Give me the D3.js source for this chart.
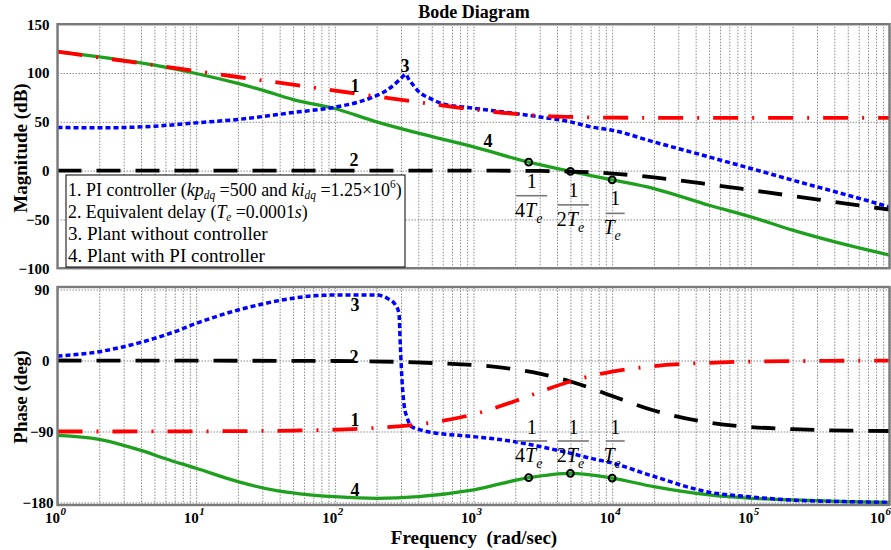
<!DOCTYPE html>
<html><head><meta charset="utf-8">
<script src="https://cdn.jsdelivr.net/npm/d3@7"></script>
<style>
body{margin:0;background:#fff}
svg{display:block}
text{font-family:"Liberation Serif","Times New Roman",serif}
</style>
</head><body>
<svg id="c" width="891" height="550"></svg>
<script>
// ---------------- DATA ----------------
const title = "Bode Diagram";
const magTicks = [150, 100, 50, 0, -50, -100];
const phaseTicks = [90, 0, -90, -180];
const decadeTicks = [1, 10, 100, 1000, 10000, 100000, 1000000];

// 1. PI controller
const piFreq  = [1, 2, 5, 10, 20, 50, 100, 200, 500, 1000, 2000, 2500, 3000, 5000, 10000, 20000, 50000, 100000, 1000000];
const piMag   = [121.9, 115.9, 108.0, 101.9, 95.9, 88.0, 82.0, 76.0, 68.2, 62.6, 58.1, 57.0, 56.2, 55.0, 54.2, 54.1, 54.0, 54.0, 54.0];
const piPhase = [-90, -90, -89.9, -89.8, -89.5, -88.9, -87.7, -85.4, -78.7, -68.2, -51.3, -45, -39.8, -26.6, -14, -7.1, -2.9, -1.4, -0.1];

// 2. Equivalent delay
const delayFreq  = [1, 100, 1000, 2000, 3000, 5000, 7000, 10000, 20000, 50000, 100000, 200000, 500000, 1000000];
const delayMag   = [0, 0, -0.04, -0.17, -0.37, -0.97, -1.74, -3.0, -7.0, -14.1, -20.0, -26.0, -34.0, -40.0];
const delayPhase = [0, -0.6, -5.7, -11.3, -16.7, -26.6, -35, -45, -63.4, -78.7, -84.3, -87.1, -88.9, -89.4];

// 3. Plant without controller
const plantMagFreq = [1, 2, 5, 10, 20, 50, 100, 150, 190, 238, 282, 305, 325, 340, 360, 405, 490, 610, 905, 2000, 3000, 5000, 7000, 10000, 20000, 50000, 100000, 200000, 500000, 1000000];
const plantMag     = [44.2, 43.8, 45.5, 48.9, 52.4, 59.5, 65.0, 70.5, 75.5, 82.4, 90.9, 95.5, 98.8, 94.0, 89.2, 80.6, 73.8, 68.0, 64.7, 58.5, 55.0, 49.9, 44.8, 41.4, 29.4, 14.0, 2.2, -9.8, -25.2, -37.2];
const plantPhFreq  = [1, 2, 3, 5, 7, 10, 20, 30, 50, 70, 100, 200, 239, 274, 290, 297, 305, 317, 330, 359, 413, 515, 1000, 2000, 3000, 5000, 7000, 10000, 20000, 50000, 100000, 200000, 500000, 1000000];
const plantPhase   = [5.7, 11.2, 17.5, 28, 36.5, 47, 64, 71.6, 79, 82, 83, 83, 78.8, 70.3, 59.8, 17.5, -24.7, -58.5, -71, -84, -88, -91.5, -96.5, -103, -109, -117.6, -124, -130, -147, -167, -173, -177, -179, -180];

// 4. Plant with PI controller
const ctrlMagFreq = [1, 2, 5, 10, 20, 30, 50, 100, 200, 400, 1000, 2500, 5000, 10000, 20000, 50000, 100000, 200000, 500000, 1000000];
const ctrlMag     = [121.6, 116.5, 108, 99.5, 89.3, 82.4, 72.8, 63.6, 49.9, 38.3, 24.3, 8.6, -0.8, -9.5, -18.4, -35.5, -47.4, -61, -76.4, -86.5];
const ctrlPhFreq  = [1, 2, 3, 4, 6, 10, 20, 38, 56, 100, 200, 400, 1000, 2500, 5000, 10000, 20000, 50000, 100000, 200000, 500000, 1000000];
const ctrlPhase   = [-94.8, -100, -107.5, -114, -124.5, -136.6, -153.6, -165, -169, -172.6, -174.7, -172.6, -164, -148.5, -143, -149, -160, -170.5, -174.7, -176.8, -179, -180];

// Marked points 1/(4Te), 1/(2Te), 1/Te
const markFreq  = [2500, 5000, 10000];
const markMag   = [8.6, -0.8, -9.5];
const markPhase = [-148.5, -143, -149];
const markDen   = ["4", "2", ""];

// ---------------- LAYOUT ----------------
const svg = d3.select("#c");
const X0 = 57.5, X1 = 889.5;
const x  = d3.scaleLog().domain([1, 1e6]).range([X0, X1]);
const yM = d3.scaleLinear().domain([-100, 150]).range([268.2, 24.2]);
const yP = d3.scaleLinear().domain([-183.2, 93.2]).range([505, 287]);

const gridFreqs = [];
for (let k = 0; k < 6; k++) for (let m = 1; m < 10; m++) gridFreqs.push(m * Math.pow(10, k));
gridFreqs.push(1e6);

const GRID = "#8a8a8a", FRAME = "#7a7a7a";

function panel(ys, ticks, id, negShift) {
  const [yb, yt] = ys.range();
  const g = svg.append("g");
  svg.append("clipPath").attr("id", id).append("rect")
    .attr("x", X0).attr("y", yt).attr("width", X1 - X0).attr("height", yb - yt);
  g.append("g").attr("transform", `translate(0,${yb})`)
    .call(d3.axisBottom(x).tickValues(gridFreqs).tickSize(-(yb - yt)).tickFormat(""))
    .call(s => { s.select(".domain").remove();
      s.selectAll("line").attr("stroke", GRID).attr("stroke-width", 1).attr("stroke-dasharray", "1.5,1.5"); });
  g.append("g").attr("transform", `translate(${X0},0)`)
    .call(d3.axisLeft(ys).tickValues(ticks).tickSize(-(X1 - X0)).tickFormat(""))
    .call(s => { s.select(".domain").remove();
      s.selectAll("line").attr("stroke", GRID).attr("stroke-width", 1).attr("stroke-dasharray", "1.5,1.5"); });
  g.append("g").attr("transform", `translate(${X0},0)`)
    .call(d3.axisLeft(ys).tickValues(ticks).tickSize(0).tickPadding(8).tickFormat(d3.format("d")))
    .call(s => { s.select(".domain").remove();
      s.selectAll("text").attr("font-weight", "bold")
        .attr("font-size", 15).attr("fill", "#000")
        .attr("dx", d => (negShift && d < 0) ? 4 : 0); });
  return g;
}

const gM = panel(yM, magTicks, "clipM", false);
const gP = panel(yP, phaseTicks, "clipP", true);

// x tick labels (10^n)
const xa = svg.append("g").attr("transform", `translate(0,505)`)
  .call(d3.axisBottom(x).tickValues(decadeTicks).tickSize(0).tickPadding(0).tickFormat(() => ""));
xa.select(".domain").remove();
xa.selectAll(".tick text").each(function (d) {
  const last = d === 1e6;
  const off = last ? -7 : 0;
  const t = d3.select(this).attr("y", 0).attr("dy", null)
    .attr("font-weight", "bold").attr("fill", "#000").attr("text-anchor", null);
  t.append("tspan").attr("x", 2 + off).attr("y", 18).attr("text-anchor", "end").attr("font-size", 15).text("10");
  t.append("tspan").attr("x", 2.5 + off).attr("y", 10).attr("text-anchor", "start").attr("font-size", 11)
    .attr("font-style", "italic").text(Math.round(Math.log10(d)));
});

// series
function series(g, ys, clip, fr, vals, color, width, dash) {
  const line = d3.line().x(d => x(d[0])).y(d => ys(d[1])).curve(d3.curveMonotoneX);
  g.append("path").datum(d3.zip(fr, vals)).attr("d", line)
    .attr("clip-path", `url(#${clip})`)
    .attr("fill", "none").attr("stroke", color).attr("stroke-width", width)
    .attr("stroke-dasharray", dash).attr("stroke-linejoin", "round");
}
const GREEN = "#1ea01e";
series(gM, yM, "clipM", ctrlMagFreq, ctrlMag, GREEN, 3.3, null);
series(gM, yM, "clipM", plantMagFreq, plantMag, "#0000ff", 3.5, "5,3");
series(gM, yM, "clipM", delayFreq, delayMag, "#000", 3.8, "24,15");
series(gM, yM, "clipM", piFreq, piMag, "#ff0000", 3.8, "25,14,2,14");

series(gP, yP, "clipP", ctrlPhFreq, ctrlPhase, GREEN, 3.3, null);
series(gP, yP, "clipP", plantPhFreq, plantPhase, "#0000ff", 3.5, "5,3");
series(gP, yP, "clipP", delayFreq, delayPhase, "#000", 3.8, "24,15");
series(gP, yP, "clipP", piFreq, piPhase, "#ff0000", 3.8, "25,14,2,14");

// frames
[yM, yP].forEach(ys => {
  const [yb, yt] = ys.range();
  svg.append("rect").attr("x", X0).attr("y", yt).attr("width", X1 - X0).attr("height", yb - yt)
    .attr("fill", "none").attr("stroke", FRAME).attr("stroke-width", 2.4);
});

// markers + fraction labels
function fraction(cx, yNum, yBar, yDen, den) {
  const g = svg.append("g");
  g.append("text").attr("x", cx).attr("y", yNum).attr("text-anchor", "middle").attr("font-size", 20).text("1");
  const w = den === "" ? 19 : 31;
  g.append("line").attr("x1", cx - w / 2).attr("x2", cx + w / 2).attr("y1", yBar).attr("y2", yBar)
    .attr("stroke", "#777").attr("stroke-width", 1.6);
  const t = g.append("text").attr("x", cx - 3).attr("y", yDen).attr("text-anchor", "middle").attr("font-size", 20);
  if (den) t.append("tspan").text(den);
  t.append("tspan").attr("font-style", "italic").text("T");
  t.append("tspan").attr("font-style", "italic").attr("font-size", 14).attr("dy", 6).text("e");
}
markFreq.forEach((f, i) => {
  const cx = x(f) + 3;
  const ym = yM(markMag[i]);
  fraction(cx, ym + 25.5, ym + 33.5, ym + 54.5, markDen[i]);
  fraction(cx, yP(-90) + 2.5, yP(-90) + 9.5, yP(-90) + 30.5, markDen[i]);
});
markFreq.forEach((f, i) => {
  [[yM, markMag[i]], [yP, markPhase[i]]].forEach(([ys, v]) => {
    svg.append("circle").attr("cx", x(f)).attr("cy", ys(v)).attr("r", 3.4)
      .attr("fill", "none").attr("stroke", "#000").attr("stroke-width", 2);
  });
});

// curve numbers
const numLabels = [
  ["1", 355, 92], ["2", 354, 166], ["3", 405, 72], ["4", 488, 147],
  ["3", 355, 311], ["2", 354, 363], ["1", 355, 426], ["4", 355, 496]
];
numLabels.forEach(([t, lx, ly]) => svg.append("text").attr("x", lx).attr("y", ly)
  .attr("text-anchor", "middle").attr("font-weight", "bold").attr("font-size", 18).text(t));

// legend
function fit(sel, x0, w) {
  const bw = sel.node().getComputedTextLength();
  if (bw > 0) sel.attr("transform", `translate(${x0},0) scale(${w / bw},1) translate(${-x0},0)`);
}
const lg = svg.append("g");
lg.append("rect").attr("x", 66).attr("y", 175).attr("width", 339).attr("height", 92)
  .attr("fill", "#fff").attr("stroke", "#000").attr("stroke-width", 1);
const FS = 19;
let t1 = lg.append("text").attr("x", 68).attr("y", 196).attr("font-size", FS);
t1.append("tspan").text("1. PI controller (");
t1.append("tspan").attr("font-style", "italic").text("kp");
t1.append("tspan").attr("font-style", "italic").attr("font-size", 12).attr("dy", 3).text("dq");
t1.append("tspan").attr("dy", -3).text(" =500 and ");
t1.append("tspan").attr("font-style", "italic").text("ki");
t1.append("tspan").attr("font-style", "italic").attr("font-size", 12).attr("dy", 3).text("dq");
t1.append("tspan").attr("dy", -3).text(" =1.25×10");
t1.append("tspan").attr("font-size", 12).attr("dy", -8).text("6");
t1.append("tspan").attr("dy", 8).text(")");
fit(t1, 68, 334);
let t2 = lg.append("text").attr("x", 68).attr("y", 218).attr("font-size", FS);
t2.append("tspan").text("2. Equivalent delay (");
t2.append("tspan").attr("font-style", "italic").text("T");
t2.append("tspan").attr("font-style", "italic").attr("font-size", 12).attr("dy", 3).text("e");
t2.append("tspan").attr("dy", -3).text(" =0.0001");
t2.append("tspan").attr("font-style", "italic").text("s");
t2.append("tspan").text(")");
fit(t2, 68, 240);
lg.append("text").attr("x", 68).attr("y", 240).attr("font-size", FS).text("3. Plant without controller");
lg.append("text").attr("x", 68).attr("y", 262).attr("font-size", FS).text("4. Plant with PI controller");

// titles
svg.append("text").attr("x", 474).attr("y", 18).attr("text-anchor", "middle")
  .attr("font-weight", "bold").attr("font-size", 18).text(title);
svg.append("text").attr("transform", "translate(27,148) rotate(-90)").attr("text-anchor", "middle")
  .attr("font-weight", "bold").attr("font-size", 19).text("Magnitude (dB)");
svg.append("text").attr("transform", "translate(27,397) rotate(-90)").attr("text-anchor", "middle")
  .attr("font-weight", "bold").attr("font-size", 19).text("Phase (deg)");
svg.append("text").attr("x", 474).attr("y", 544).attr("text-anchor", "middle").style("white-space", "pre")
  .attr("font-weight", "bold").attr("font-size", 19).text("Frequency  (rad/sec)");
</script>
</body></html>
